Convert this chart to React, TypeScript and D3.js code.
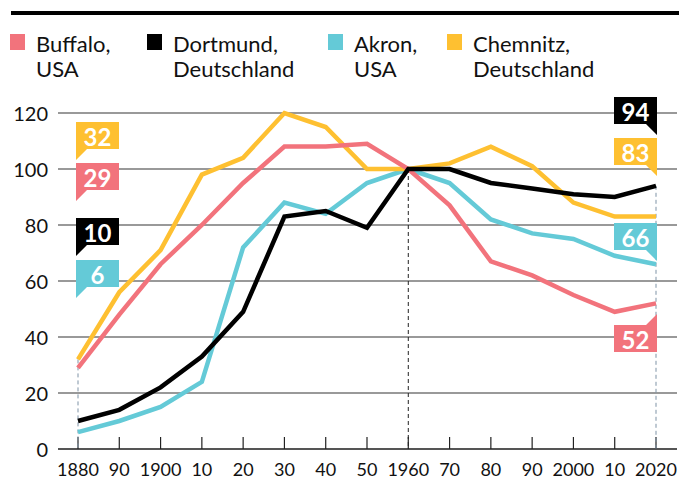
import React from "react";
import * as d3 from "d3";

const years = [1880, 1890, 1900, 1910, 1920, 1930, 1940, 1950, 1960, 1970, 1980, 1990, 2000, 2010, 2020];
const yearLabels = ["1880", "90", "1900", "10", "20", "30", "40", "50", "1960", "70", "80", "90", "2000", "10", "2020"];
const yTicks = [0, 20, 40, 60, 80, 100, 120];

const buffalo = [29, 48, 66, 80, 95, 108, 108, 109, 100, 87, 67, 62, 55, 49, 52];
const dortmund = [10, 14, 22, 33, 49, 83, 85, 79, 100, 100, 95, 93, 91, 90, 94];
const akron = [6, 10, 15, 24, 72, 88, 84, 95, 100, 95, 82, 77, 75, 69, 66];
const chemnitz = [32, 56, 71, 98, 104, 120, 115, 100, 100, 102, 108, 101, 88, 83, 83];

const seriesNames = [["Buffalo,", "USA"], ["Dortmund,", "Deutschland"], ["Akron,", "USA"], ["Chemnitz,", "Deutschland"]];
const seriesColors = ["#f2737c", "#000000", "#64cad7", "#fec031"];
const seriesValues = [buffalo, dortmund, akron, chemnitz];

const W = 693;
const H = 479;
const FONT = "Lato, 'Noto Sans', sans-serif";

export default function App() {
  const x = d3.scaleLinear().domain([1880, 2020]).range([78, 656]);
  const y = d3.scaleLinear().domain([0, 120]).range([449, 113]);

  const line = d3.line<number>()
    .x((d, i) => x(years[i]))
    .y(d => y(d));

  // draw order: akron, chemnitz, buffalo, dortmund
  const order = [2, 3, 0, 1];

  // flag box tops in px, per series (buffalo, dortmund, akron, chemnitz)
  const leftTops = [163, 218, 260, 122];
  const rightTops = [325, 97, 223, 138];

  const legendX = [10, 147, 328, 447];

  const flag = (i: number, side: "left" | "right") => {
    const color = seriesColors[i];
    const vals = seriesValues[i];
    const v = side === "left" ? vals[0] : vals[vals.length - 1];
    const top = side === "left" ? leftTops[i] : rightTops[i];
    const bw = 43, bh = 27, t = 11;
    let x0: number, path: string;
    if (side === "left") {
      x0 = x(1880) - 2;
      path = `M${x0},${top}h${bw}v${bh}h${-(bw - t)}l${-t},${t}z`;
    } else {
      x0 = x(2020) + 1 - bw;
      const up = i === 0;
      if (up) {
        path = `M${x0},${top}h${bw - t}l${t},${-t}v${bh + t}h${-bw}z`;
      } else {
        path = `M${x0},${top}h${bw}v${bh + t}l${-t},${-t}h${-(bw - t)}z`;
      }
    }
    return (
      <g key={side + i}>
        <path d={path} fill={color} />
        <text x={x0 + bw / 2} y={top + bh / 2 + 1} textAnchor="middle" dominantBaseline="central"
          fill="#fff" fontWeight={700} fontSize={24} fontFamily={FONT}>{v}</text>
      </g>
    );
  };

  return (
    <svg width={W} height={H} style={{ position: "absolute", left: 0, top: 0, background: "#fff" }}>
      <rect x={11} y={11} width={668} height={4} fill="#000" />

      {seriesNames.map((n, i) => (
        <g key={"leg" + i} transform={`translate(${legendX[i]},0)`}>
          <rect x={0} y={34} width={15} height={16} fill={seriesColors[i]} />
          <text x={26} y={52} fontSize={22} fontFamily={FONT} fill="#111">{n[0]}</text>
          <text x={26} y={77} fontSize={22} fontFamily={FONT} fill="#111">{n[1]}</text>
        </g>
      ))}

      {yTicks.map(t => (
        <g key={"y" + t}>
          <line x1={58} x2={677} y1={y(t)} y2={y(t)} stroke={t === 0 ? "#555" : "#777"} strokeWidth={t === 0 ? 2 : 1.5} />
          <text x={48} y={y(t)} textAnchor="end" dominantBaseline="central" fontSize={20} fontFamily={FONT} fill="#111">{t}</text>
        </g>
      ))}

      {years.map((yr, i) => (
        <g key={"x" + yr}>
          <line x1={x(yr)} x2={x(yr)} y1={437} y2={449} stroke="#222" strokeWidth={1.2} />
          <text x={x(yr)} y={469} textAnchor="middle" dominantBaseline="central" fontSize={18} fontFamily={FONT} fill="#111">{yearLabels[i]}</text>
        </g>
      ))}

      <line x1={x(1880)} x2={x(1880)} y1={y(d3.max(seriesValues, s => s[0])!)} y2={y(0)} stroke="#7f93a6" strokeWidth={1} strokeDasharray="4,3" />
      <line x1={x(1960)} x2={x(1960)} y1={y(100)} y2={y(0)} stroke="#222" strokeWidth={1} strokeDasharray="4,3" />
      <line x1={x(2020)} x2={x(2020)} y1={y(d3.max(seriesValues, s => s[s.length - 1])!)} y2={y(0)} stroke="#7f93a6" strokeWidth={1} strokeDasharray="4,3" />

      {order.map(i => (
        <path key={"l" + i} d={line(seriesValues[i])!} fill="none" stroke={seriesColors[i]} strokeWidth={4.5} strokeLinejoin="miter" />
      ))}

      {[0, 1, 2, 3].map(i => flag(i, "left"))}
      {[0, 1, 2, 3].map(i => flag(i, "right"))}
    </svg>
  );
}
